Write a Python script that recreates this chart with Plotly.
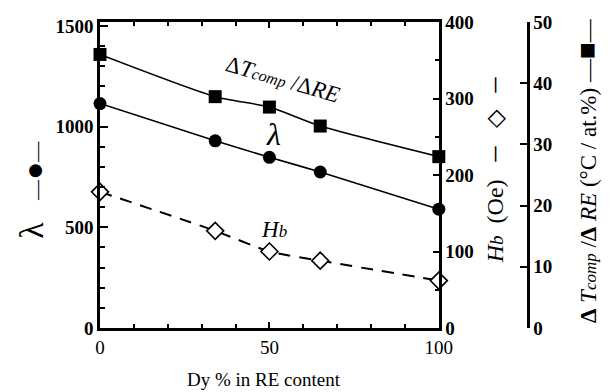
import plotly.graph_objects as go

# ---- data ----
dy_pct = [0, 34, 50, 65, 100]
lam = [1115, 930, 848, 775, 590]
hb = [178, 127, 100, 88, 62]
dt_comp = [44.7, 37.8, 36.1, 33.0, 28.0]

x_ticks = [0, 50, 100]
lam_ticks = [0, 500, 1000, 1500]
hb_ticks = [0, 100, 200, 300, 400]
dt_ticks = [0, 10, 20, 30, 40, 50]

FONT = "Liberation Serif"
W, H = 611, 392
ML, MR, MT, MB = 100, 20, 16, 64
PW = W - ML - MR
PH = H - MT - MB

def px(xp):
    return (xp - ML) / PW

def py(yp):
    return (H - MB - yp) / PH

fig = go.Figure()
fig.add_trace(go.Scatter(x=dy_pct, y=dt_comp, yaxis="y3", mode="lines+markers", cliponaxis=False,
                         line=dict(color="black", width=1.6, shape="spline", smoothing=0.6),
                         marker=dict(symbol="square", size=13, color="black"), showlegend=False))
fig.add_trace(go.Scatter(x=dy_pct, y=lam, yaxis="y", mode="lines+markers", cliponaxis=False,
                         line=dict(color="black", width=1.6, shape="spline", smoothing=0.6),
                         marker=dict(symbol="circle", size=13, color="black"), showlegend=False))
fig.add_trace(go.Scatter(x=dy_pct, y=hb, yaxis="y2", mode="lines+markers", cliponaxis=False,
                         line=dict(color="black", width=2, dash="12px,9px", shape="spline", smoothing=0.6),
                         marker=dict(symbol="diamond", size=13, color="white",
                                     line=dict(color="black", width=1.6)), showlegend=False))

tickfont = dict(family=FONT, size=19, color="black", weight="bold")

fig.update_layout(
    width=W, height=H,
    margin=dict(l=ML, r=MR, t=MT, b=MB, pad=0),
    paper_bgcolor="white", plot_bgcolor="white",
    font=dict(family=FONT, color="black"),
    xaxis=dict(domain=[0, 343 / PW], range=[0, 100], tickvals=x_ticks,
               ticks="inside", ticklen=6, tickwidth=2, tickcolor="black",
               minor=dict(dtick=10, ticks="inside", ticklen=4, tickwidth=1.5, tickcolor="black"),
               showline=True, linewidth=2.5, linecolor="black", mirror="ticks",
               showgrid=False, zeroline=False,
               tickfont=dict(family=FONT, size=19, color="black")),
    yaxis=dict(range=[0, 1520], tickvals=lam_ticks,
               ticks="inside", ticklen=8, tickwidth=2, tickcolor="black",
               minor=dict(dtick=100, ticks="inside", ticklen=5, tickwidth=1.5, tickcolor="black"),
               showline=True, linewidth=2.5, linecolor="black",
               showgrid=False, zeroline=False, tickfont=tickfont),
    yaxis2=dict(range=[0, 400], tickvals=hb_ticks, overlaying="y", side="right", anchor="x",
                ticks="inside", ticklen=6, tickwidth=2, tickcolor="black",
                minor=dict(dtick=50, ticks="inside", ticklen=4, tickwidth=1.5, tickcolor="black"),
                showline=True, linewidth=2.5, linecolor="black",
                showgrid=False, zeroline=False, tickfont=tickfont),
    yaxis3=dict(range=[0, 50], tickvals=dt_ticks, overlaying="y", side="right", anchor="free",
                position=px(533),
                ticks="inside", ticklen=7, tickwidth=2, tickcolor="black",
                showline=True, linewidth=2.5, linecolor="black",
                showgrid=False, zeroline=False, tickfont=tickfont),
)

def add_text(ann, xp, yp, text, size, angle=0):
    ann.append(dict(x=px(xp), y=py(yp), xref="paper", yref="paper", showarrow=False,
                    xanchor="center", yanchor="middle", textangle=angle, text=text,
                    font=dict(family=FONT, size=size, color="black")))

ann = []
# in-plot labels
add_text(ann, 285, 75, "Δ<i>T</i><i><span style='font-size:16px'>comp</span></i> /Δ<i>RE</i>", 23, 16)
add_text(ann, 276, 130, "<i>λ</i>", 32)
add_text(ann, 276, 228, "<i>H<span style='font-size:17px'>b</span></i>", 23)
# axis titles
add_text(ann, 266, 380, "Dy % in RE content", 19)
add_text(ann, 31, 228, "λ", 34, -90)
add_text(ann, 32, 168, "—<span style='font-size:30px'>●</span>—", 20, -90)
add_text(ann, 497, 167,
         "<i>H<span style='font-size:19px'>b</span></i>  (Oe)   <span style='font-size:30px'>–</span>   "
         "<span style='font-size:24px'>◇</span>   <span style='font-size:30px'>–</span>", 24, -90)
add_text(ann, 592, 167,
         "<b>Δ</b> <i>T<span style='font-size:17px'>comp</span></i> /<b>Δ</b> <i>RE</i> (°C / at.%) —<span style='font-size:28px'>■</span>—",
         23, -90)
fig.update_layout(annotations=ann)

fig.write_html("out.html")
